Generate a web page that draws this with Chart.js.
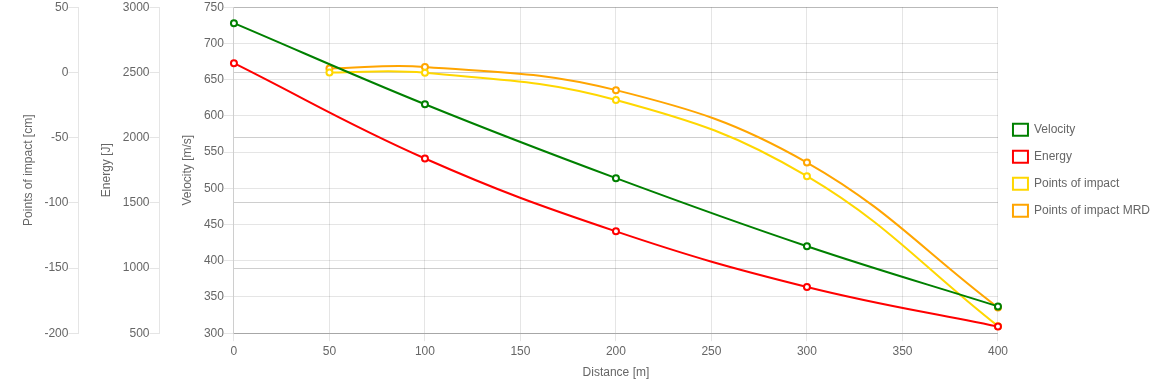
<!DOCTYPE html>
<html>
<head>
<meta charset="utf-8">
<script src="https://cdn.jsdelivr.net/npm/chart.js@4/dist/chart.umd.min.js"></script>
<style>
  html, body { margin: 0; padding: 0; background: #fff; }
  #wrap { width: 1160px; height: 386px; position: relative; }
</style>
</head>
<body>
<div id="wrap"><canvas id="c"></canvas></div>
<script>
// Distances [m]
const distances = [0, 100, 200, 300, 400];
const poiDistances = [50, 100, 200, 300, 400];
// Series values
const velocity = [728, 616, 514, 420, 337];          // m/s
const energy = [2571, 1840, 1281, 855, 551];          // J
const pointsOfImpact = [0, -0.3, -21.1, -79.6, -194.6];   // cm
const pointsOfImpactMRD = [3, 4.2, -13.6, -69.1, -180.3]; // cm
// Series labels
const seriesNames = ['Velocity', 'Energy', 'Points of impact', 'Points of impact MRD'];
// Axis titles
const axisTitles = { x: 'Distance [m]', v: 'Velocity [m/s]', e: 'Energy [J]', p: 'Points of impact [cm]' };

function pairs(xs, ys) { return xs.map((x, i) => ({ x: x, y: ys[i] })); }
const plain = v => String(v);

Chart.defaults.font.family = "'Liberation Sans', Arial, sans-serif";
Chart.defaults.font.size = 12;
Chart.defaults.color = '#666';

function ds(label, data, color, axis) {
  return {
    label: label, data: data, yAxisID: axis,
    borderColor: color, backgroundColor: '#fff',
    borderWidth: 2, pointRadius: 3, pointBorderWidth: 2,
    pointBackgroundColor: '#fff', pointBorderColor: color,
    tension: 0.4, fill: false, clip: false
  };
}

const yTitle = text => ({ display: true, text: text, padding: { top: 21, bottom: 9 } });

new Chart(document.getElementById('c'), {
  type: 'line',
  data: {
    datasets: [
      ds(seriesNames[0], pairs(distances, velocity), 'green', 'y'),
      ds(seriesNames[1], pairs(distances, energy), 'red', 'yE'),
      ds(seriesNames[2], pairs(poiDistances, pointsOfImpact), '#FFD700', 'yP'),
      ds(seriesNames[3], pairs(poiDistances, pointsOfImpactMRD), 'orange', 'yP')
    ]
  },
  options: {
    responsive: true,
    maintainAspectRatio: false,
    animation: false,
    layout: { padding: { bottom: 2 } },
    plugins: {
      legend: {
        position: 'right',
        fullSize: false,
        maxWidth: 300,
        labels: { boxWidth: 15, padding: 15, color: '#666' }
      },
      tooltip: { enabled: false }
    },
    scales: {
      x: {
        type: 'linear', min: 0, max: 400,
        ticks: { stepSize: 50, callback: plain },
        title: { display: true, text: axisTitles.x, padding: { top: 4, bottom: 4 } }
      },
      y: {
        type: 'linear', position: 'left', weight: 1, min: 300, max: 750,
        ticks: { stepSize: 50, callback: plain, padding: 0 },
        grid: { tickLength: 10 },
        title: yTitle(axisTitles.v)
      },
      yE: {
        type: 'linear', position: 'left', weight: 2, min: 500, max: 3000,
        ticks: { stepSize: 500, callback: plain, padding: 0 },
        grid: { tickLength: 10 },
        title: yTitle(axisTitles.e)
      },
      yP: {
        type: 'linear', position: 'left', weight: 3, min: -200, max: 50,
        ticks: { stepSize: 50, callback: plain, padding: 0 },
        grid: { tickLength: 10 },
        title: yTitle(axisTitles.p)
      }
    }
  }
});
</script>
</body>
</html>
